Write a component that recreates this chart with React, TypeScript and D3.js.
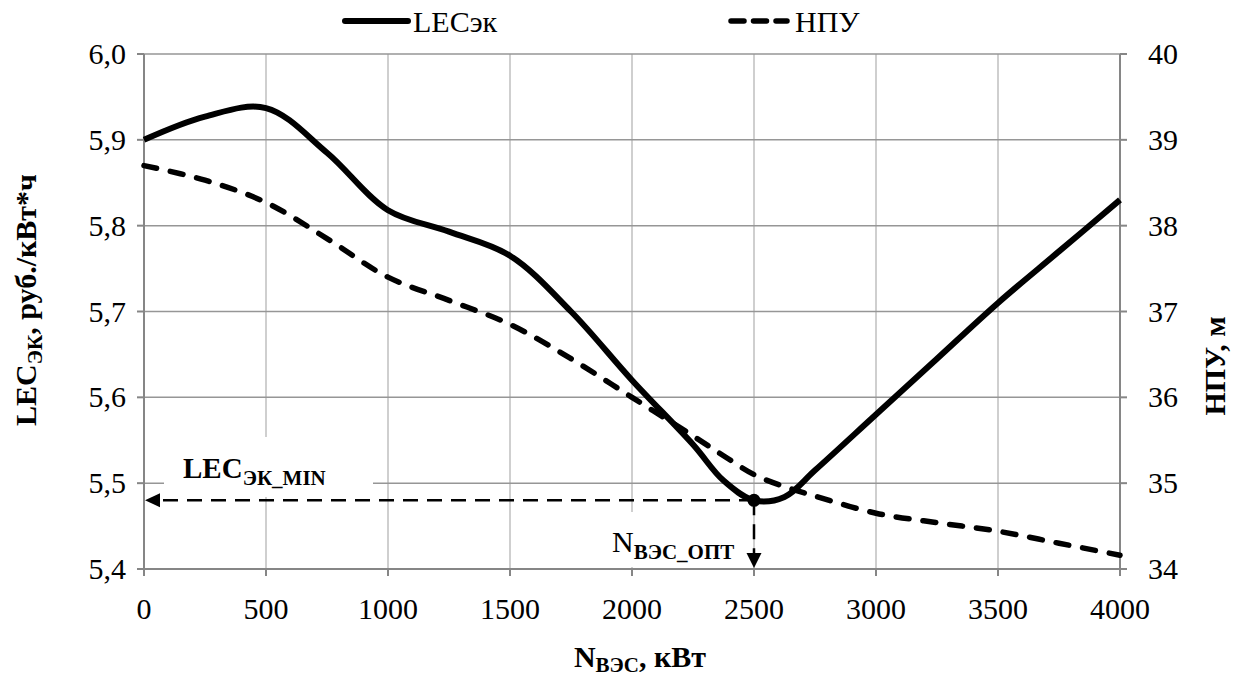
import React, { useEffect, useRef } from "react";
import * as d3 from "d3";

// N ВЭС, кВт
const nValues = [0, 250, 500, 750, 1000, 1250, 1500, 1750, 2000, 2250, 2375, 2500, 2625, 2750, 3000, 3250, 3500, 3750, 4000];
// LECэк, руб./кВт*ч
const lecValues = [5.9, 5.927, 5.937, 5.885, 5.818, 5.793, 5.765, 5.7, 5.62, 5.545, 5.503, 5.48, 5.484, 5.515, 5.58, 5.645, 5.71, 5.77, 5.83];
// НПУ, м
const npuValues = [38.7, 38.53, 38.27, 37.85, 37.4, 37.13, 36.85, 36.45, 36.0, 35.55, 35.32, 35.1, 34.96, 34.85, 34.65, 34.54, 34.44, 34.3, 34.16];

const xTicks = [0, 500, 1000, 1500, 2000, 2500, 3000, 3500, 4000];
const leftTicks = [5.4, 5.5, 5.6, 5.7, 5.8, 5.9, 6.0];
const rightTicks = [34, 35, 36, 37, 38, 39, 40];

const optN = 2500;
const optLec = 5.48;

const W = 1238;
const H = 680;
const FONT = "'Liberation Serif', 'Times New Roman', serif";
const FS = 30;
const SUB = 21;

const App = () => {
	const ref = useRef<SVGSVGElement>(null);

	useEffect(() => {
		const svg = d3.select(ref.current);
		svg.selectAll("*").remove();

		const left = 144,
			right = 1120,
			top = 54,
			bottom = 569;

		const x = d3.scaleLinear().domain([0, 4000]).range([left, right]);
		const yL = d3.scaleLinear().domain([5.4, 6.0]).range([bottom, top]);
		const yR = d3.scaleLinear().domain([34, 40]).range([bottom, top]);

		// grid
		const grid = svg.append("g").attr("stroke", "#bfbfbf").attr("stroke-width", 1.5);
		xTicks.slice(1, -1).forEach((t) => {
			grid.append("line").attr("x1", x(t)).attr("x2", x(t)).attr("y1", top).attr("y2", bottom);
		});
		leftTicks.slice(1).forEach((t) => {
			grid.append("line").attr("x1", left).attr("x2", right).attr("y1", yL(t)).attr("y2", yL(t))
				.attr("stroke", "#969696");
		});

		// axes
		const axisColor = "#868686";
		const ax = svg.append("g").attr("stroke", axisColor).attr("stroke-width", 2);
		ax.append("line").attr("x1", left).attr("x2", left).attr("y1", top).attr("y2", bottom + 7);
		ax.append("line").attr("x1", right).attr("x2", right).attr("y1", top).attr("y2", bottom + 7);
		ax.append("line").attr("x1", left - 7).attr("x2", right + 7).attr("y1", bottom).attr("y2", bottom);
		xTicks.forEach((t) => {
			ax.append("line").attr("x1", x(t)).attr("x2", x(t)).attr("y1", bottom).attr("y2", bottom + 7);
		});
		leftTicks.forEach((t) => {
			ax.append("line").attr("x1", left - 7).attr("x2", left).attr("y1", yL(t)).attr("y2", yL(t));
		});
		rightTicks.forEach((t) => {
			ax.append("line").attr("x1", right).attr("x2", right + 7).attr("y1", yR(t)).attr("y2", yR(t));
		});

		const txt = svg.append("g").attr("font-family", FONT).attr("font-size", FS).attr("fill", "#000");
		xTicks.forEach((t) => {
			txt.append("text").attr("x", x(t)).attr("y", bottom + 50).attr("text-anchor", "middle").text(t);
		});
		leftTicks.forEach((t) => {
			txt.append("text").attr("x", left - 18).attr("y", yL(t) + 10).attr("text-anchor", "end")
				.text(d3.format(".1f")(t).replace(".", ","));
		});
		rightTicks.forEach((t) => {
			txt.append("text").attr("x", right + 28).attr("y", yR(t) + 10).attr("text-anchor", "start").text(t);
		});

		// axis titles
		const lt = txt.append("text")
			.attr("transform", `translate(36,300) rotate(-90)`)
			.attr("text-anchor", "middle").attr("font-weight", "bold");
		lt.append("tspan").text("LEC");
		lt.append("tspan").attr("font-size", SUB).attr("dy", 6).text("ЭК");
		lt.append("tspan").attr("dy", -6).text(", руб./кВт*ч");

		txt.append("text")
			.attr("transform", `translate(1225,366) rotate(-90)`)
			.attr("text-anchor", "middle").attr("font-weight", "bold").text("НПУ, м");

		const bt = txt.append("text").attr("x", 640).attr("y", 667)
			.attr("text-anchor", "middle").attr("font-weight", "bold");
		bt.append("tspan").text("N");
		bt.append("tspan").attr("font-size", SUB).attr("dy", 5).text("ВЭС");
		bt.append("tspan").attr("dy", -5).text(", кВт");

		// series
		const pts = nValues.map((n, i) => ({ n, lec: lecValues[i], npu: npuValues[i] }));
		const lecLine = d3.line<any>().x((d) => x(d.n)).y((d) => yL(d.lec)).curve(d3.curveCatmullRom.alpha(0.5));
		const npuLine = d3.line<any>().x((d) => x(d.n)).y((d) => yR(d.npu)).curve(d3.curveCatmullRom.alpha(0.5));

		svg.append("path").datum(pts).attr("d", npuLine).attr("fill", "none")
			.attr("stroke", "#000").attr("stroke-width", 5.5).attr("stroke-dasharray", "13 14")
			.attr("stroke-linecap", "round");
		svg.append("path").datum(pts).attr("d", lecLine).attr("fill", "none")
			.attr("stroke", "#000").attr("stroke-width", 6).attr("stroke-linejoin", "round");

		// annotation labels with white boxes
		svg.append("rect").attr("x", 164).attr("y", 437).attr("width", 209).attr("height", 60).attr("fill", "#fff");
		const minLbl = svg.append("text").attr("x", 183).attr("y", 478)
			.attr("font-family", FONT).attr("font-weight", "bold").attr("font-size", 29);
		minLbl.append("tspan").text("LEC");
		minLbl.append("tspan").attr("font-size", SUB).attr("dy", 7).text("ЭК_MIN");

		svg.append("rect").attr("x", 600).attr("y", 512).attr("width", 146).attr("height", 55).attr("fill", "#fff");
		const optLbl = svg.append("text").attr("x", 612).attr("y", 552)
			.attr("font-family", FONT).attr("font-size", FS);
		optLbl.append("tspan").text("N");
		optLbl.append("tspan").attr("font-size", SUB).attr("font-weight", "bold").attr("dy", 7).text("ВЭС_ОПТ");

		// optimum lines
		const ox = x(optN),
			oy = yL(optLec);
		const ann = svg.append("g").attr("stroke", "#000").attr("stroke-width", 2.5).attr("stroke-dasharray", "15 9");
		ann.append("line").attr("x1", ox).attr("x2", left + 14).attr("y1", oy).attr("y2", oy);
		ann.append("line").attr("x1", ox).attr("x2", ox).attr("y1", oy).attr("y2", bottom - 14);
		svg.append("path")
			.attr("d", `M${left + 1},${oy} L${left + 16},${oy - 7} L${left + 16},${oy + 7} Z`)
			.attr("fill", "#000");
		svg.append("path")
			.attr("d", `M${ox},${bottom - 1} L${ox - 7.5},${bottom - 16} L${ox + 7.5},${bottom - 16} Z`)
			.attr("fill", "#000");
		svg.append("circle").attr("cx", ox).attr("cy", oy).attr("r", 6.5).attr("fill", "#000");

		// legend
		const lg = svg.append("g").attr("font-family", FONT).attr("font-size", FS);
		lg.append("line").attr("x1", 345).attr("x2", 408).attr("y1", 21).attr("y2", 21)
			.attr("stroke", "#000").attr("stroke-width", 6).attr("stroke-linecap", "round");
		lg.append("text").attr("x", 413).attr("y", 32).text("LECэк");
		lg.append("line").attr("x1", 731).attr("x2", 787).attr("y1", 21).attr("y2", 21)
			.attr("stroke", "#000").attr("stroke-width", 5.5).attr("stroke-linecap", "round")
			.attr("stroke-dasharray", "13 9.5");
		lg.append("text").attr("x", 795).attr("y", 32).text("НПУ");
	}, []);

	return (
		<svg
			ref={ref}
			width={W}
			height={H}
			style={{ position: "absolute", left: 0, top: 0, background: "#fff" }}
		/>
	);
};

export default App;
